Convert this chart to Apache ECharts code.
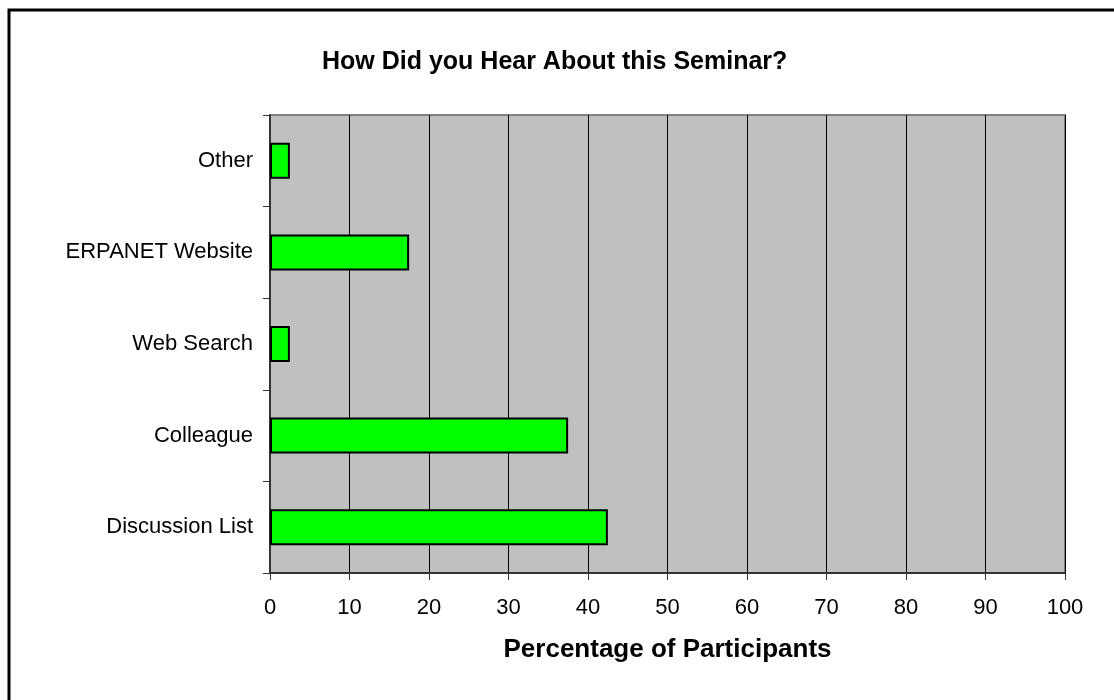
<!DOCTYPE html>
<html>
<head>
<meta charset="utf-8">
<script src="https://cdn.jsdelivr.net/npm/echarts@6/dist/echarts.min.js"></script>
<style>
  html, body { margin: 0; padding: 0; background: #fff; }
  #main { width: 1114px; height: 700px; }
</style>
</head>
<body>
<div id="main"></div>
<script>
// categories bottom -> top
const categories = ["Discussion List", "Colleague", "Web Search", "ERPANET Website", "Other"];
const percentages = [42.5, 37.5, 2.5, 17.5, 2.5];
const xTicks = [0, 10, 20, 30, 40, 50, 60, 70, 80, 90, 100];

const chart = echarts.init(document.getElementById("main"));
const font = "Arial, 'Liberation Sans', sans-serif";

const option = {
  backgroundColor: "#fff",
  animation: false,
  title: {
    text: "How Did you Hear About this Seminar?",
    left: 317,
    top: 45,
    textStyle: { fontFamily: font, fontSize: 25, fontWeight: "bold", color: "#000" },
  },
  grid: {
    left: 270,
    top: 115,
    right: 49,
    bottom: 127,
    show: true,
    backgroundColor: "#c0c0c0",
    borderColor: "#808080",
    borderWidth: 2,
  },
  xAxis: {
    type: "value",
    min: xTicks[0],
    max: xTicks[xTicks.length - 1],
    interval: 10,
    name: "Percentage of Participants",
    nameLocation: "middle",
    nameGap: 64,
    nameTextStyle: { fontFamily: font, fontSize: 26, fontWeight: "bold", color: "#000" },
    axisLine: { show: true, lineStyle: { color: "#333", width: 2 } },
    axisTick: { show: true, length: 7, lineStyle: { color: "#333", width: 1 } },
    axisLabel: { margin: 24, fontFamily: font, fontSize: 22, color: "#000" },
    splitLine: { show: true, lineStyle: { color: "#000", width: 1 } },
  },
  yAxis: {
    type: "category",
    data: categories,
    axisLine: { show: true, lineStyle: { color: "#333", width: 2 } },
    axisTick: { show: true, length: 7, lineStyle: { color: "#333", width: 1 } },
    axisLabel: { margin: 17, fontFamily: font, fontSize: 22, color: "#000" },
    splitLine: { show: false },
  },
  series: [
    {
      type: "bar",
      data: percentages,
      barWidth: 36,
      itemStyle: { color: "#00ff00", borderColor: "#000", borderWidth: 2 },
    },
  ],
  graphic: [
    {
      type: "rect",
      silent: true,
      z: 100,
      shape: { x: 9, y: 10, width: 1200, height: 800 },
      style: { fill: "none", stroke: "#000", lineWidth: 3 },
    },
  ],
};

chart.setOption(option);
</script>
</body>
</html>
